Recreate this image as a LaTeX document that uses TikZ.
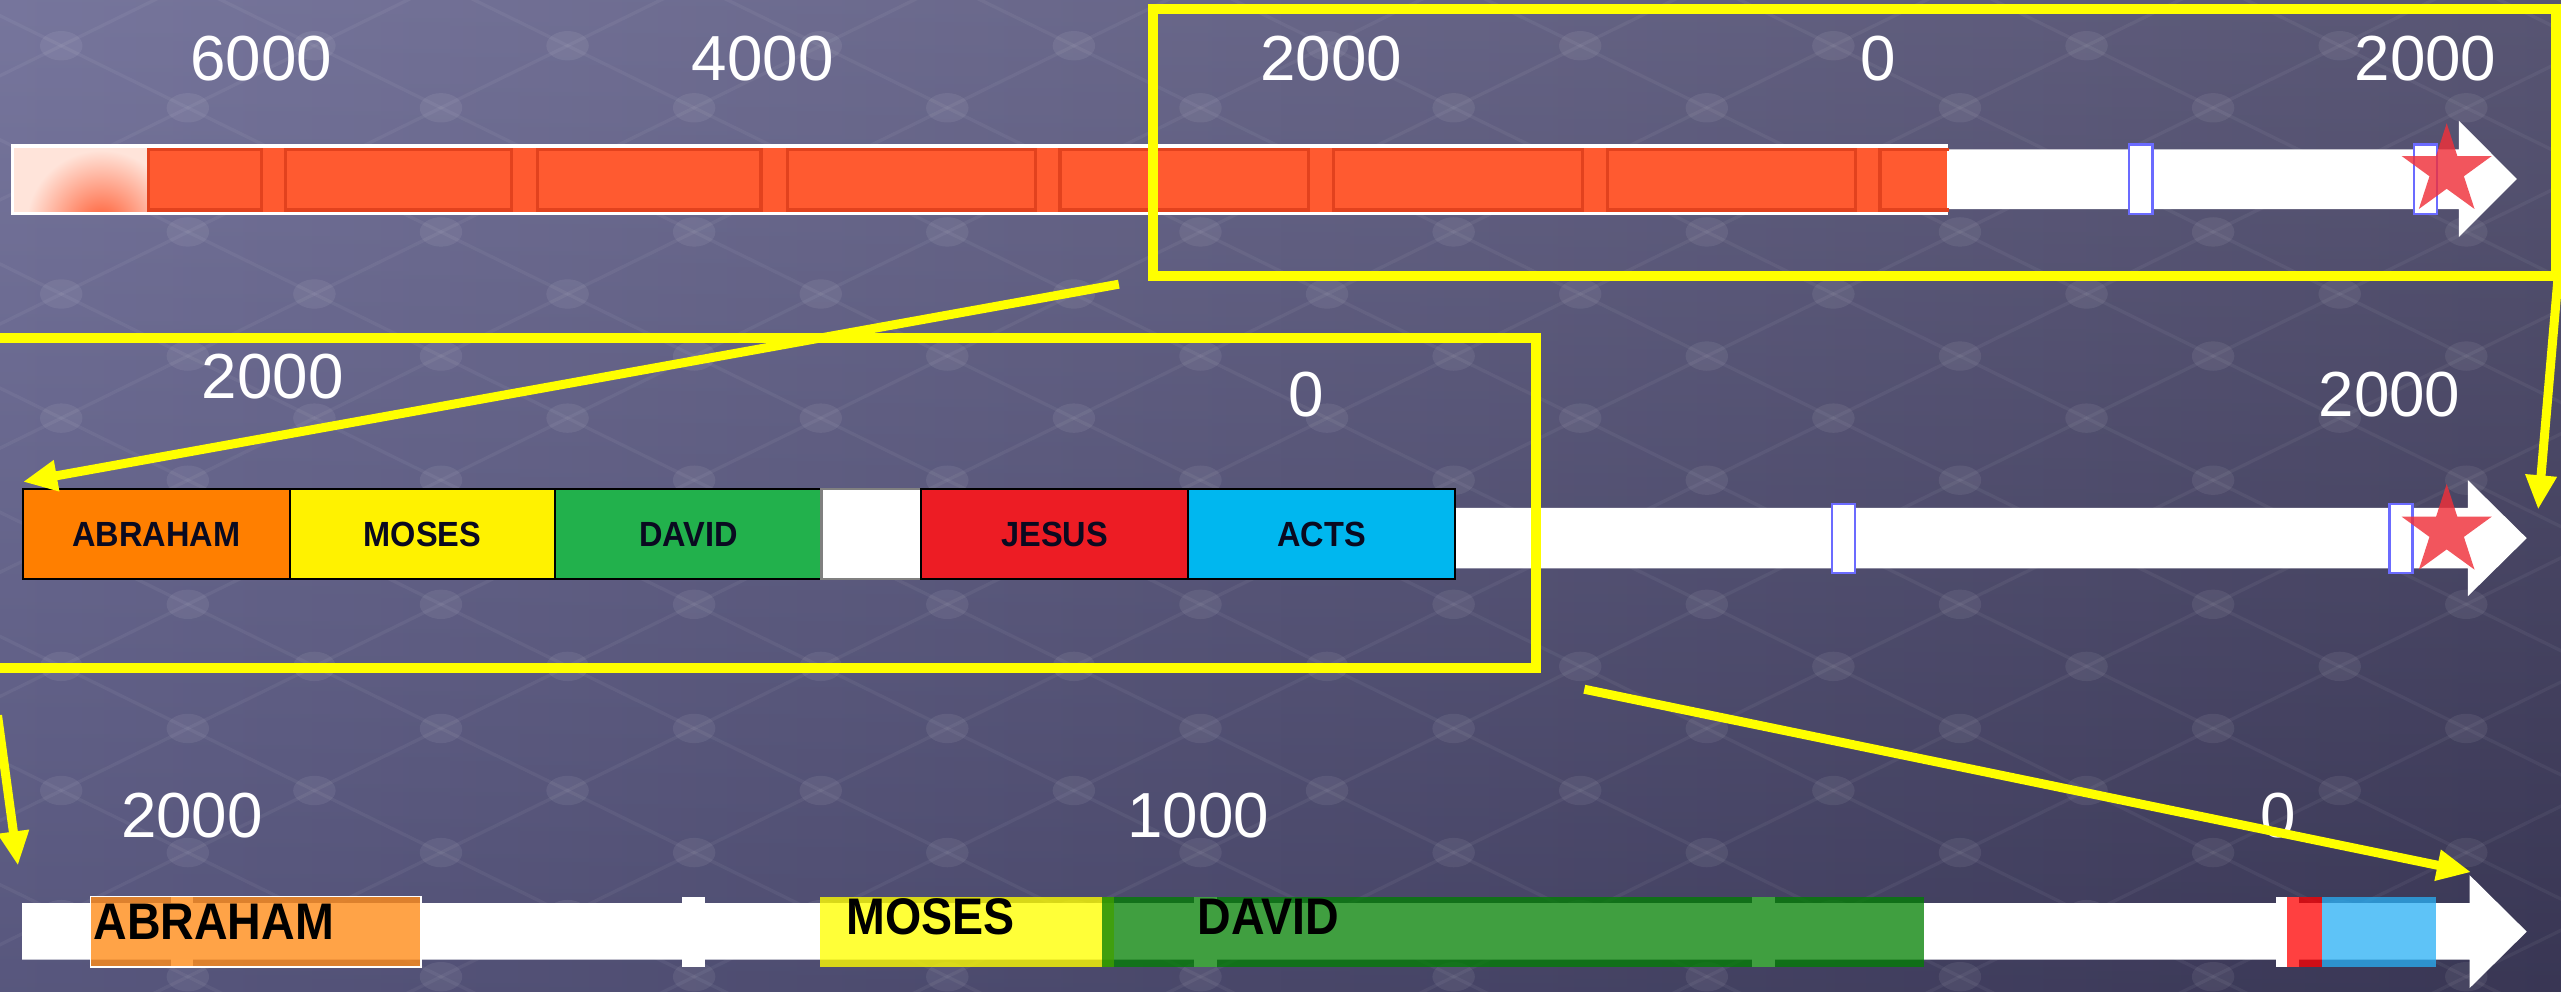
\documentclass[tikz,border=0pt]{standalone}
\usepackage{fontspec}
\setmainfont{Liberation Sans}
\usetikzlibrary{shapes.geometric,arrows.meta}
\definecolor{bgA}{HTML}{64638F}
\definecolor{bgB}{HTML}{413E60}
\definecolor{segor}{HTML}{FF5A30}
\definecolor{segbd}{HTML}{E2421E}
\definecolor{peach}{HTML}{FFE4DA}
\definecolor{tickbl}{HTML}{6B6BFF}
\definecolor{starred}{HTML}{F0303A}
\definecolor{cabr}{HTML}{FF7F00}
\definecolor{cmos}{HTML}{FFF200}
\definecolor{cdav}{HTML}{22B14C}
\definecolor{cjes}{HTML}{ED1C24}
\definecolor{cact}{HTML}{00B7EF}
\definecolor{oabr}{HTML}{FF8C1A}
\definecolor{odav}{HTML}{008000}
\definecolor{oact}{HTML}{29B0F5}
\definecolor{yel}{HTML}{FFFF00}
\definecolor{navytxt}{HTML}{0A0A20}
\newcommand{\boxlbl}[1]{\scalebox{0.93}[1.0]{#1}}
\begin{document}
\begin{tikzpicture}[x=1pt,y=-1pt,
  numlbl/.style={text=white, font=\fontsize{39}{39}\selectfont, inner sep=0pt},
  seg/.style={draw=segbd, line width=2pt},
  tickb/.style={draw=tickbl, line width=1.6pt, fill=white},
  tickw/.style={fill=white},
  redstar/.style={star, star points=5, star point ratio=2.618, minimum size=58pt, inner sep=0pt, fill=starred, fill opacity=0.82, draw=none},
  boxtwo/.style={draw=black, line width=1.4pt, minimum height=55pt, inner sep=0pt, text=navytxt, font=\bfseries\fontsize{21.4}{21.4}\selectfont},
  boxthree/.style={minimum height=43pt, inner sep=0pt, draw=none},
  txtthree/.style={anchor=base west, inner sep=0pt, text=black, font=\bfseries\fontsize{30}{30}\selectfont},
  yframe/.style={draw=yel, line width=6pt},
  yarrow/.style={draw=yel, line width=5.5pt, -{Triangle[length=21pt,width=18pt]}, fill=yel},
  shaft/.style={fill=white}
]
\useasboundingbox (0,0) rectangle (1568,607.35);
% background
\shade[left color=bgA, right color=bgB] (0,0) rectangle (1568,607.35);
\shade[top color=black!0, bottom color=black, opacity=0.12] (0,0) rectangle (1568,607.35);
% faint lattice
\foreach \j in {0,...,17}{
  \foreach \i in {0,...,11}{
    \pgfmathsetmacro{\xx}{-40+155*\i+77.5*mod(\j,2)}
    \pgfmathsetmacro{\yy}{-10+38*\j}
    \draw[white, opacity=0.05, line width=2pt] (\xx,\yy) -- ++(77.5,38);
    \draw[white, opacity=0.05, line width=2pt] (\xx,\yy) -- ++(-77.5,38);
    \fill[white, opacity=0.07] (\xx,\yy) ellipse [x radius=13, y radius=9];
  }
}

% ===== Row 1 =====
\node[numlbl] (r1a) at (160,35.7) {6000};
\node[numlbl] (r1b) at (467,35.7) {4000};
\node[numlbl] (r1c) at (815,35.7) {2000};
\node[numlbl] (r1d) at (1150,35.7) {0};
\node[numlbl] (r1e) at (1485,35.7) {2000};
\fill[shaft] (1180,91.4) -- (1505.5,91.4) -- (1505.5,74) -- (1541,109.6) -- (1505.5,145) -- (1505.5,128) -- (1180,128) -- cycle;
\fill[white] (7,88) rectangle (1192.5,131.5);
\fill[segor] (90,90.5) rectangle (1192,129.6);
\fill[peach] (8.5,90.5) rectangle (90,129.6);
\begin{scope}
\clip (8.5,90.5) rectangle (90,129.6);
\shade[inner color=segor, outer color=peach] (62,138) circle [radius=46];
\end{scope}
\foreach \a/\b in {90/161,174/314,328/467,481/635,648/802,815.5/970,983/1137}{
  \draw[seg] (\a+1,91.5) rectangle (\b-1,128.6);
}
\draw[seg] (1193,91.5) -- (1151,91.5) -- (1151,128.6) -- (1193,128.6);
\draw[tickb] (1303.5,88.5) rectangle (1318,131);
\draw[tickb] (1478,88.5) rectangle (1492,131);
\node[redstar] (star1) at (1498,104.5) {};

% ===== Row 2 =====
\node[numlbl] (r2a) at (167,230.3) {2000};
\node[numlbl] (r2b) at (800,241.4) {0};
\node[numlbl] (r2c) at (1463,241.4) {2000};
\fill[shaft] (880,311) -- (1511,311) -- (1511,294) -- (1547,329.5) -- (1511,365) -- (1511,348) -- (880,348) -- cycle;
\draw[tickb] (1121.6,308.6) rectangle (1135.7,350.8);
\draw[tickb] (1463,308.6) rectangle (1477,350.8);
\node[redstar] (star2) at (1498,325.3) {};
\node[boxtwo, fill=cabr, minimum width=163.5pt] (b2abr) at (95.75,326.95) {\boxlbl{ABRAHAM}};
\node[boxtwo, fill=cmos, minimum width=162.5pt] (b2mos) at (258.75,326.95) {\boxlbl{MOSES}};
\node[boxtwo, fill=cdav, minimum width=163pt] (b2dav) at (421.5,326.95) {\boxlbl{DAVID}};
\node[boxtwo, fill=white, draw=gray, minimum width=61pt] (b2gap) at (533.5,326.95) {};
\node[boxtwo, fill=cjes, minimum width=163.5pt] (b2jes) at (645.75,326.95) {\boxlbl{JESUS}};
\node[boxtwo, fill=cact, minimum width=163.5pt] (b2act) at (809.25,326.95) {\boxlbl{ACTS}};

% ===== Row 3 =====
\node[numlbl] (r3a) at (117.5,499.5) {2000};
\node[numlbl] (r3b) at (733.5,499.5) {1000};
\node[numlbl] (r3c) at (1395,499.5) {0};
\fill[shaft] (13.6,553) -- (1512,553) -- (1512,535.8) -- (1547,570.4) -- (1512,605) -- (1512,587.5) -- (13.6,587.5) -- cycle;
\foreach \a/\b in {104.7/118,417.7/431.6,731/745,1072.7/1086.8,1393.5/1407.5}{
  \fill[tickw] (\a,549) rectangle (\b,592);
}
\node[boxthree, fill=oabr, fill opacity=0.8, draw=white, draw opacity=1, line width=0.9pt, minimum width=202.2pt] (b3abr) at (156.6,570.5) {};
\node[boxthree, fill=yel, fill opacity=0.78, minimum width=180pt] (b3mos) at (592,570.5) {};
\node[boxthree, fill=odav, fill opacity=0.75, minimum width=503pt] (b3dav) at (926.5,570.5) {};
\node[boxthree, fill=red, fill opacity=0.75, minimum width=21.7pt] (b3jes) at (1410.85,570.5) {};
\node[boxthree, fill=oact, fill opacity=0.75, minimum width=69.8pt] (b3act) at (1456.6,570.5) {};
\node[txtthree] (t3abr) at (57,575.5) {\scalebox{0.95}[1.05]{ABRAHAM}};
\node[txtthree] (t3mos) at (518,572) {\scalebox{0.95}[1.05]{MOSES}};
\node[txtthree] (t3dav) at (733,572) {\scalebox{0.95}[1.05]{DAVID}};

% ===== Yellow frames and arrows =====
\node[yframe, inner sep=0pt, minimum width=859pt, minimum height=163.7pt] (f1) at (1135.5,87.15) {};
\node[yframe, inner sep=0pt, minimum width=950.5pt, minimum height=202pt] (f2) at (465.25,308) {};
\coordinate (a1s) at (685,174);
\coordinate (a1e) at (14,295);
\coordinate (a2s) at (1566,172);
\coordinate (a2e) at (1554,312);
\coordinate (a3s) at (-1.5,438);
\coordinate (a3e) at (11,530);
\coordinate (a4s) at (970,422);
\coordinate (a4e) at (1513,534);
\draw[yarrow] (a1s) -- (a1e);
\draw[yarrow] (a2s) -- (a2e);
\draw[yarrow] (a3s) -- (a3e);
\draw[yarrow] (a4s) -- (a4e);
\end{tikzpicture}
\end{document}
